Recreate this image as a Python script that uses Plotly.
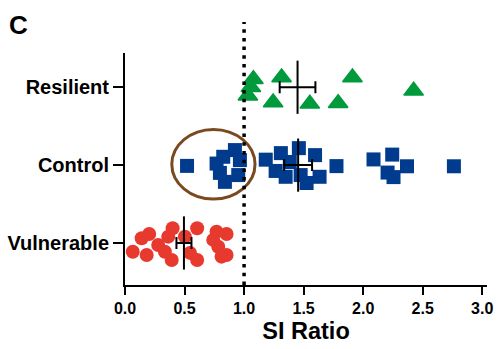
import plotly.graph_objects as go

# ---- data ----
groups = ["Vulnerable", "Control", "Resilient"]
group_pos = [0, 1, 2]

resilient_x = [1.078, 1.057, 1.032, 1.315, 1.244, 1.552, 1.790, 1.910, 2.424]
resilient_jit = [0.103, 0.0, -0.109, 0.126, -0.195, -0.213, -0.206, 0.126, -0.046]

control_x = [0.521, 0.769, 0.797, 0.825, 0.839, 0.923, 0.951, 0.965,
             1.182, 1.309, 1.460, 1.596, 1.265, 1.349, 1.475, 1.525, 1.634, 1.384, 1.776,
             2.087, 2.244, 2.368, 2.205, 2.255, 2.762]
control_jit = [-0.01, 0.02, -0.10, 0.107, -0.215, 0.193, -0.128, 0.064,
               0.07, 0.154, 0.218, 0.128, -0.075, -0.15, -0.128, -0.23, -0.15, 0.04, -0.013,
               0.073, 0.135, -0.015, -0.096, -0.154, -0.015]

vulnerable_x = [0.065, 0.140, 0.203, 0.182, 0.279, 0.335, 0.392, 0.400, 0.363, 0.503,
                0.546, 0.606, 0.606, 0.769, 0.853, 0.741, 0.783, 0.811, 0.853]
vulnerable_jit = [-0.112, 0.06, 0.116, -0.154, -0.026, -0.112, -0.218, 0.189, 0.081, 0.081,
                  -0.128, -0.218, 0.189, 0.145, 0.116, 0.039, -0.048, -0.176, -0.154]

means = [0.495, 1.454, 1.449]
sems = [0.063, 0.117, 0.150]

x_ticks = [0.0, 0.5, 1.0, 1.5, 2.0, 2.5, 3.0]
x_ticklabels = ["0.0", "0.5", "1.0", "1.5", "2.0", "2.5", "3.0"]
threshold = 1.0

GREEN = "#009A3D"
BLUE = "#003B8E"
RED = "#E8392F"
BROWN = "#7A4A1E"
FONT = "Liberation Sans, Arial, Helvetica, sans-serif"

fig = go.Figure()

fig.add_trace(go.Scatter(
    x=vulnerable_x, y=[group_pos[0] + j for j in vulnerable_jit], mode="markers",
    marker=dict(symbol="circle", size=14, color=RED, line=dict(width=0)),
    cliponaxis=False, showlegend=False))
fig.add_trace(go.Scatter(
    x=control_x, y=[group_pos[1] + j for j in control_jit], mode="markers",
    marker=dict(symbol="square", size=14, color=BLUE, line=dict(width=0)),
    cliponaxis=False, showlegend=False))
fig.add_trace(go.Scatter(
    x=resilient_x, y=[group_pos[2] + j for j in resilient_jit], mode="markers",
    marker=dict(symbol="triangle-up", size=17, color=GREEN, line=dict(width=1.5, color=GREEN)),
    cliponaxis=False, showlegend=False))

# mean +/- SEM
fig.add_trace(go.Scatter(
    x=means, y=group_pos, mode="markers",
    marker=dict(symbol="line-ns", size=38, color="black", line=dict(width=2, color="black")),
    error_x=dict(type="data", array=sems, color="black", thickness=2, width=6),
    cliponaxis=False, showlegend=False))

# ellipse highlight
fig.add_shape(type="circle", xref="x", yref="y", x0=0.393, x1=1.092, y0=0.564, y1=1.458,
              line=dict(color=BROWN, width=3))

# threshold dotted line
fig.add_shape(type="line", xref="x", yref="paper", x0=threshold, x1=threshold, y0=0, y1=1.134,
              line=dict(color="black", width=3.5, dash="3.5px,5.2px"))

fig.add_annotation(text="<b>C</b>", xref="paper", yref="paper", x=-0.326, y=1.194,
                   xanchor="left", yanchor="top", showarrow=False,
                   font=dict(size=26, color="black", family=FONT))

fig.update_layout(
    width=498, height=349,
    margin=dict(l=125, r=11, t=53, b=64, autoexpand=False),
    plot_bgcolor="white", paper_bgcolor="white",
    font=dict(family=FONT, color="black"),
    xaxis=dict(range=[0, 3.04], tickvals=x_ticks, ticktext=x_ticklabels, automargin=False,
               showline=True, linecolor="black", linewidth=2, ticks="outside",
               ticklen=8, tickwidth=2, tickcolor="black", showgrid=False, zeroline=False,
               tickfont=dict(size=16, family=FONT, weight="bold"),
               title=dict(text="SI Ratio", font=dict(size=23.5, family=FONT, weight="bold"),
                          standoff=6)),
    yaxis=dict(range=[-0.54, 2.44], tickvals=group_pos, ticktext=groups, automargin=False,
               showline=True, linecolor="black", linewidth=2, ticks="outside",
               ticklen=10, tickwidth=2, tickcolor="black", showgrid=False, zeroline=False,
               tickfont=dict(size=20, family=FONT, weight="bold")),
)

fig.write_html("out.html", config={"displayModeBar": False},
               post_script="document.body.style.margin='0';document.body.style.overflow='hidden';")
